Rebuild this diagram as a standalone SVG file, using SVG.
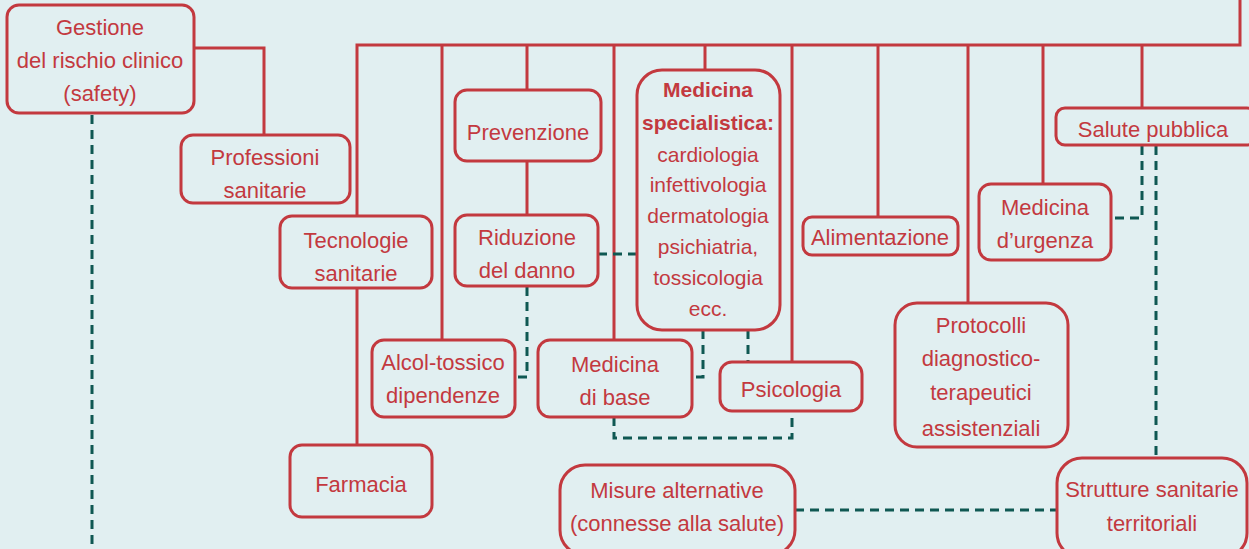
<svg xmlns="http://www.w3.org/2000/svg" width="1249" height="549" viewBox="0 0 1249 549">
<style>
.bg{fill:#e1eff1}
.box{fill:#e1eff1;stroke:#c3393f;stroke-width:3}
.ln{fill:none;stroke:#c3393f;stroke-width:3}
.dl{fill:none;stroke:#0f5853;stroke-width:3;stroke-dasharray:9 6}
text{font-family:"Liberation Sans",Arial,sans-serif;font-size:22px;fill:#c3393f;text-anchor:middle}
.b{font-weight:bold;font-size:21px}
.s{font-size:21px}
</style>
<rect class="bg" x="0" y="0" width="1249" height="549"/>
<g id="connectors">
<path class="ln" d="M194,48 H264 V135"/>
<path class="ln" d="M357,216 V45 H1240 V0"/>
<path class="ln" d="M357,288 V445"/>
<path class="ln" d="M442,45 V340"/>
<path class="ln" d="M527,45 V90 M527,161 V215"/>
<path class="ln" d="M614,45 V340"/>
<path class="ln" d="M705,45 V70"/>
<path class="ln" d="M792,45 V362"/>
<path class="ln" d="M878,45 V217"/>
<path class="ln" d="M968,45 V303"/>
<path class="ln" d="M1043,45 V184"/>
<path class="ln" d="M1142,45 V108"/>
<path class="dl" d="M92,115 V549"/>
<path class="dl" d="M527,287 V377 H515"/>
<path class="dl" d="M598,254 H637"/>
<path class="dl" d="M703,330 V377 H692"/>
<path class="dl" d="M748,330 V362"/>
<path class="dl" d="M614,417 V438 H792 V411"/>
<path class="dl" d="M795,510 H1057"/>
<path class="dl" d="M1142,146 V218 H1111"/>
<path class="dl" d="M1156,146 V458"/>
</g>
<g id="gestione"><rect class="box" x="7" y="5" width="187" height="108" rx="12"/><text x="100" y="35">Gestione</text><text x="100" y="68">del rischio clinico</text><text x="100" y="101">(safety)</text></g>
<g id="professioni"><rect class="box" x="181" y="135" width="169" height="68" rx="12"/><text x="265" y="165">Professioni</text><text x="265" y="198">sanitarie</text></g>
<g id="tecnologie"><rect class="box" x="280" y="216" width="152" height="72" rx="12"/><text x="356" y="248">Tecnologie</text><text x="356" y="281">sanitarie</text></g>
<g id="farmacia"><rect class="box" x="290" y="445" width="142" height="72" rx="12"/><text x="361" y="492">Farmacia</text></g>
<g id="prevenzione"><rect class="box" x="455" y="90" width="146" height="71" rx="12"/><text x="528" y="140">Prevenzione</text></g>
<g id="riduzione"><rect class="box" x="455" y="215" width="143" height="71" rx="12"/><text x="527" y="245">Riduzione</text><text x="527" y="278">del danno</text></g>
<g id="alcol"><rect class="box" x="372" y="340" width="143" height="77" rx="12"/><text x="443" y="370">Alcol-tossico</text><text x="443" y="403">dipendenze</text></g>
<g id="medspec"><rect class="box" x="637" y="70" width="143" height="260" rx="25"/><text class="b" x="708" y="97">Medicina</text><text class="b" x="708" y="130">specialistica:</text><text class="s" x="708" y="162">cardiologia</text><text class="s" x="708" y="192">infettivologia</text><text class="s" x="708" y="223">dermatologia</text><text class="s" x="708" y="254">psichiatria,</text><text class="s" x="708" y="285">tossicologia</text><text class="s" x="708" y="316">ecc.</text></g>
<g id="medbase"><rect class="box" x="538" y="340" width="154" height="77" rx="12"/><text x="615" y="372">Medicina</text><text x="615" y="405">di base</text></g>
<g id="psicologia"><rect class="box" x="720" y="362" width="142" height="49" rx="12"/><text x="791" y="397">Psicologia</text></g>
<g id="misure"><rect class="box" x="560" y="465" width="235" height="90" rx="25"/><text x="677" y="498">Misure alternative</text><text x="677" y="531">(connesse alla salute)</text></g>
<g id="alimentazione"><rect class="box" x="803" y="217" width="155" height="38" rx="9"/><text x="880" y="245">Alimentazione</text></g>
<g id="protocolli"><rect class="box" x="895" y="303" width="173" height="144" rx="22"/><text x="981" y="333">Protocolli</text><text x="981" y="366">diagnostico-</text><text x="981" y="400">terapeutici</text><text x="981" y="436">assistenziali</text></g>
<g id="urgenza"><rect class="box" x="979" y="184" width="132" height="76" rx="12"/><text x="1045" y="215">Medicina</text><text x="1045" y="248">d’urgenza</text></g>
<g id="salute"><rect class="box" x="1056" y="108" width="200" height="37" rx="9"/><text x="1153" y="137">Salute pubblica</text></g>
<g id="strutture"><rect class="box" x="1057" y="458" width="190" height="100" rx="25"/><text x="1152" y="497">Strutture sanitarie</text><text x="1152" y="531">territoriali</text></g>
</svg>
